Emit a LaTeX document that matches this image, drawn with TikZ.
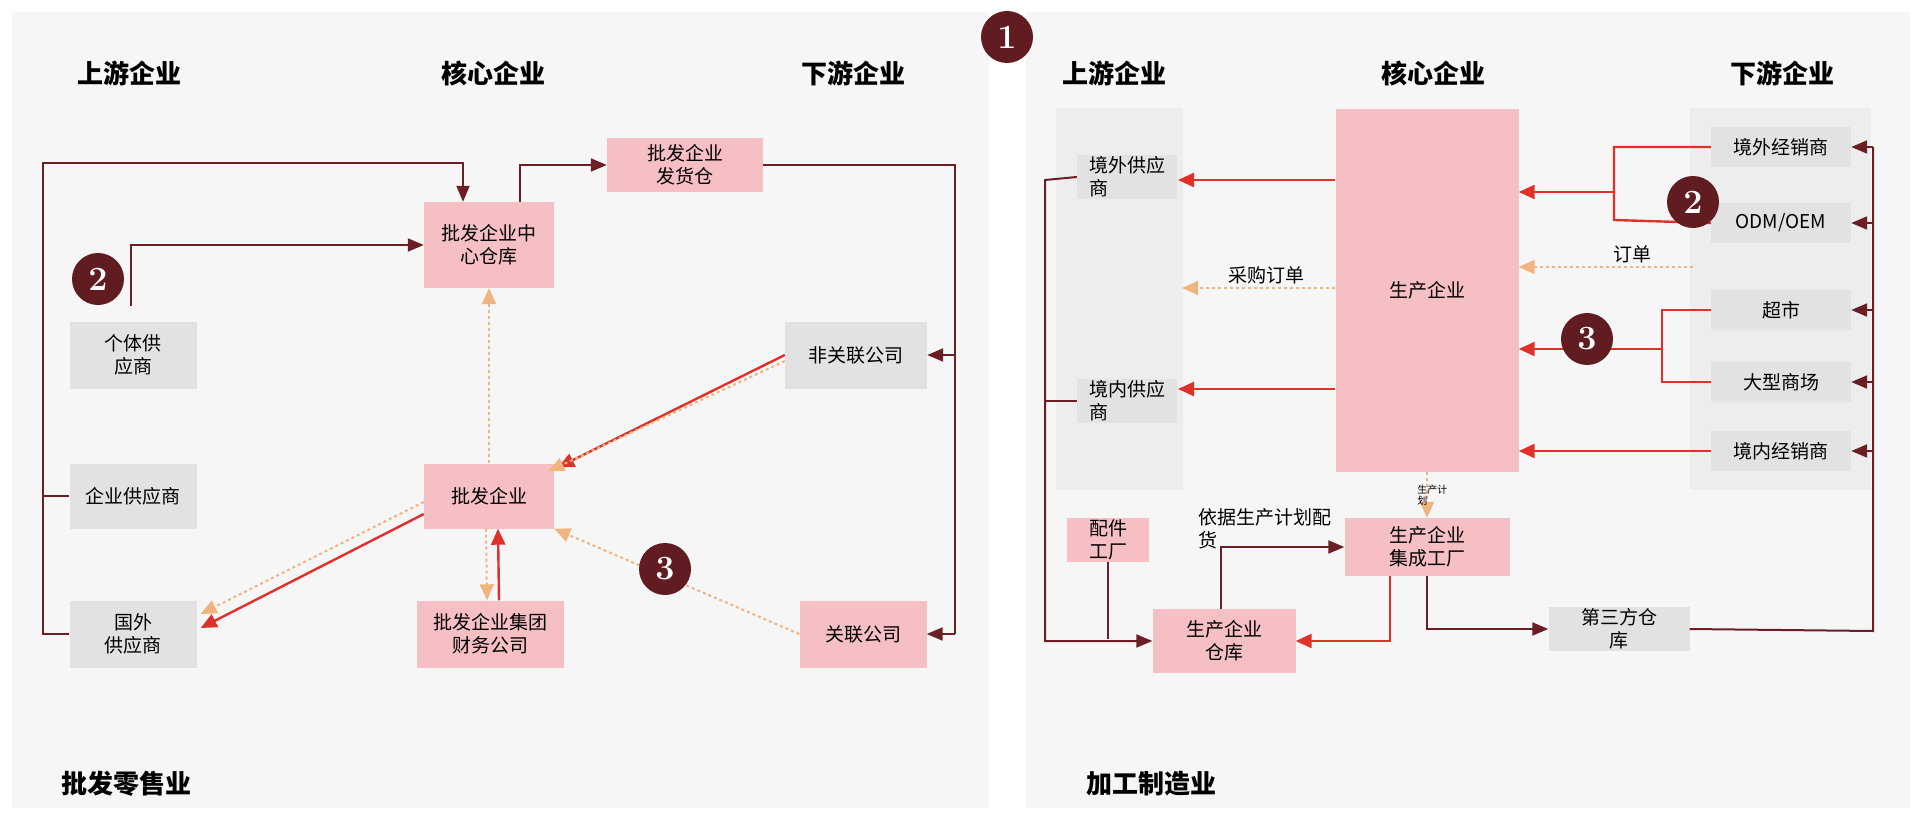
\documentclass[tikz,border=0pt]{standalone}
\usepackage{fontspec}
\newfontfamily\cjk{Noto Sans CJK SC}
\usetikzlibrary{arrows.meta,positioning}
\definecolor{maroon}{HTML}{6B1F24}
\definecolor{redln}{HTML}{E0302A}
\definecolor{orng}{HTML}{F0B47E}
\definecolor{pinkbox}{HTML}{F5BFC4}
\definecolor{graybox}{HTML}{E2E2E2}
\definecolor{panel}{HTML}{F6F6F6}
\definecolor{colbg}{HTML}{EDEDED}
\begin{document}
\begin{tikzpicture}[
    x=1pt, y=-1pt,
    font=\cjk\fontsize{19}{23}\selectfont,
    pbox/.style={fill=pinkbox, align=center, inner sep=2pt},
    gbox/.style={fill=graybox, align=center, inner sep=2pt},
    title/.style={font=\cjk\bfseries\fontsize{26}{30}\selectfont},
    num/.style={circle, fill=maroon!90!black, text=white, minimum size=52pt, inner sep=0pt, font=\bfseries\fontsize{34}{34}\selectfont},
    dk/.style={draw=maroon, line width=2pt, -{Triangle[length=16pt,width=13pt]}},
    rd/.style={draw=redln, line width=2.4pt, -{Triangle[length=16pt,width=14pt]}},
    od/.style={draw=orng, line width=2pt, dashed, -{Triangle[length=16pt,width=14pt]}}
]
    \useasboundingbox (0,0) rectangle (1920,816);
    \fill[white] (0,0) rectangle (1920,816);
    % panels
    \fill[panel] (12,12) rectangle (989,808);
    \fill[panel] (1026,12) rectangle (1910,808);
    \fill[colbg] (1056,108) rectangle (1183,490);
    \fill[colbg] (1690,108) rectangle (1871,490);

    % ---------- left: wholesale ----------
    \node[title] (lup) at (129,73) {上游企业};
    \node[title] (lcore) at (493,73) {核心企业};
    \node[title] (ldown) at (853,73) {下游企业};
    \node[title] (ltype) at (126,784) {批发零售业};

    \node[pbox, minimum width=130pt, minimum height=86pt] (cwh) at (489,245) {批发企业中\\心仓库};
    \node[pbox, minimum width=156pt, minimum height=54pt] (ship) at (685,165) {批发企业\\发货仓};
    \node[gbox, minimum width=127pt, minimum height=67pt] (indv) at (133,355) {个体供\\应商};
    \node[gbox, minimum width=127pt, minimum height=65pt] (corp) at (133,496) {企业供应商};
    \node[gbox, minimum width=127pt, minimum height=67pt] (frgn) at (133,634) {国外\\供应商};
    \node[pbox, minimum width=130pt, minimum height=65pt] (whs) at (489,496) {批发企业};
    \node[pbox, minimum width=147pt, minimum height=67pt] (fin) at (490,634) {批发企业集团\\财务公司};
    \node[gbox, minimum width=142pt, minimum height=67pt] (nrel) at (856,355) {非关联公司};
    \node[pbox, minimum width=127pt, minimum height=67pt] (rel) at (863,634) {关联公司};

    % supply lines
    \draw[dk] (frgn.west) -- (43,634) -- (43,163) -| (463,0 |- cwh.north);
    \draw[draw=maroon, line width=2pt] (corp.west) -- (43,496);
    \draw[dk] (131,306) |- (cwh.west);
    \draw[dk] (520,0 |- cwh.north) |- (ship.west);
    \draw[draw=maroon, line width=2pt] (ship.east) -| (955,634);
    \draw[dk] (955,355) -- (nrel.east);
    \draw[dk] (955,634) -- (rel.east);

    % flows
    \draw[od] (whs.north) -- (cwh.south);
    \draw[rd] (nrel.west) -- ([xshift=4pt,yshift=-4pt]whs.north east);
    \draw[od] ([yshift=-6pt]nrel.west) -- ([xshift=-6pt,yshift=-8pt]whs.north east);
    \draw[rd] ([yshift=-18pt]whs.west) -- ([xshift=4pt,yshift=6pt]frgn.east);
    \draw[od] ([yshift=-6pt]whs.west) -- ([xshift=4pt,yshift=20pt]frgn.east);
    \draw[rd] ([xshift=9pt]fin.north) -- ([xshift=9pt]whs.south);
    \draw[od] ([xshift=-3pt]whs.south) -- ([xshift=-3pt]fin.north);
    \draw[od] (rel.west) -- (whs.south east);

    \node[num] (n2l) at (98,279) {2};
    \node[num] (n3l) at (665,569) {3};
    \node[num] (n1) at (1007,37) {1};

    % ---------- right: manufacturing ----------
    \node[title] (rup) at (1114,73) {上游企业};
    \node[title] (rcore) at (1433,73) {核心企业};
    \node[title] (rdown) at (1782,73) {下游企业};
    \node[title] (rtype) at (1151,784) {加工制造业};

    \node[pbox, minimum width=183pt, minimum height=363pt] (mfg) at (1427,290) {生产企业};
    \node[gbox, minimum width=100pt, align=left] (osup) at (1127,177) {境外供应\\商};
    \node[gbox, minimum width=100pt, align=left] (dsup) at (1127,401) {境内供应\\商};
    \node[gbox, minimum width=140pt, minimum height=40pt] (odist) at (1781,147) {境外经销商};
    \node[gbox, minimum width=140pt, minimum height=40pt] (odm) at (1781,223) {ODM/OEM};
    \node[gbox, minimum width=140pt, minimum height=40pt] (mkt) at (1781,310) {超市};
    \node[gbox, minimum width=140pt, minimum height=40pt] (mall) at (1781,382) {大型商场};
    \node[gbox, minimum width=140pt, minimum height=40pt] (ddist) at (1781,451) {境内经销商};

    \node[pbox, minimum width=82pt, minimum height=41pt] (parts) at (1108,540) {配件\\工厂};
    \node[pbox, minimum width=165pt, minimum height=58pt] (asm) at (1427,547) {生产企业\\集成工厂};
    \node[pbox, minimum width=143pt, minimum height=64pt] (mwh) at (1224,641) {生产企业\\仓库};
    \node[gbox, minimum width=141pt, minimum height=40pt] (tpl) at (1619,629) {第三方仓\\库};

    % core to suppliers
    \draw[rd] (mfg.west |- 0,180) -- (1178,180);
    \draw[rd] (mfg.west |- 0,389) -- (1178,389);
    \draw[od] (mfg.west |- 0,288) -- node[above, pos=0.45] (po) {采购订单} (1182,288);

    % customers to core
    \draw[draw=redln, line width=2.4pt] (odist.west) -| (1614,220) -- (odm.west);
    \draw[rd] (1614,192) -- (mfg.east |- 0,192);
    \draw[od] (1693,267) -- node[above, pos=0.35] (ord) {订单} (mfg.east |- 0,267);
    \draw[draw=redln, line width=2.4pt] (mkt.west) -| (1662,0 |- mall.west) -- (mall.west);
    \draw[rd] (1662,349) -- (mfg.east |- 0,349);
    \draw[rd] (ddist.west) -- (mfg.east |- 0,451);

    \node[num] (n2r) at (1693,202) {2};
    \node[num] (n3r) at (1587,339) {3};

    % distribution to customers
    \draw[draw=maroon, line width=2pt] (tpl.east) -- (1873,631) -- (1873,147);
    \foreach \b in {odist,odm,mkt,mall,ddist}
        \draw[dk] (1873,0 |- \b.east) -- (\b.east);

    % production flow
    \draw[od] (mfg.south) -- node[right, xshift=-14pt, font=\cjk\fontsize{10}{11}\selectfont, align=left] (plan) {生产计\\划} (asm.north);
    \draw[dk] (osup.west) -- (1045,180) |- (mwh.west);
    \draw[draw=maroon, line width=2pt] (dsup.west) -- (1045,0 |- dsup.west);
    \draw[draw=maroon, line width=2pt] (parts.south) -- (1108,639);
    \draw[dk] (1221,0 |- mwh.north) |- (asm.west);
    \node[align=left, anchor=north west] (alloc) at (1195,505) {依据生产计划配\\货};
    \draw[rd] (1390,0 |- asm.south) |- (mwh.east);
    \draw[dk] (1427,0 |- asm.south) |- (tpl.west);
\end{tikzpicture}
\end{document}
